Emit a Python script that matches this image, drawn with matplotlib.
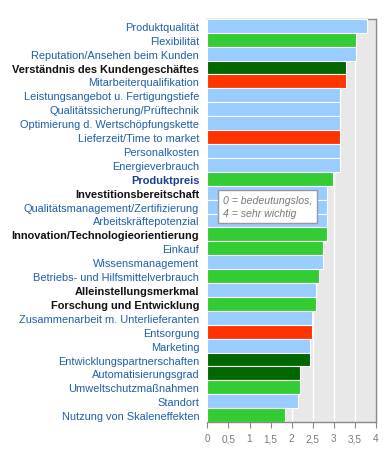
import numpy as np
import matplotlib.pyplot as plt

plt.rcParams['font.family'] = ['Liberation Sans', 'DejaVu Sans']

labels = [
    'Produktqualität', 'Flexibilität', 'Reputation/Ansehen beim Kunden',
    'Verständnis des Kundengeschäftes', 'Mitarbeiterqualifikation',
    'Leistungsangebot u. Fertigungstiefe', 'Qualitätssicherung/Prüftechnik',
    'Optimierung d. Wertschöpfungskette', 'Lieferzeit/Time to market',
    'Personalkosten', 'Energieverbrauch', 'Produktpreis',
    'Investitionsbereitschaft', 'Qualitätsmanagement/Zertifizierung',
    'Arbeitskräftepotenzial', 'Innovation/Technologieorientierung',
    'Einkauf', 'Wissensmanagement', 'Betriebs- und Hilfsmittelverbrauch',
    'Alleinstellungsmerkmal', 'Forschung und Entwicklung',
    'Zusammenarbeit m. Unterlieferanten', 'Entsorgung', 'Marketing',
    'Entwicklungspartnerschaften', 'Automatisierungsgrad',
    'Umweltschutzmaßnahmen', 'Standort', 'Nutzung von Skaleneffekten',
]
values = [3.79, 3.54, 3.54, 3.30, 3.30, 3.15, 3.15, 3.15, 3.15, 3.15, 3.15,
          2.98, 2.84, 2.84, 2.84, 2.84, 2.74, 2.74, 2.65, 2.58, 2.58,
          2.48, 2.48, 2.44, 2.44, 2.20, 2.20, 2.15, 1.85]
# gruppe: b = hellblau, g = gruen, d = dunkelgruen, r = rot
groups = ['b', 'g', 'b', 'd', 'r', 'b', 'b', 'b', 'r', 'b', 'b', 'g', 'b',
          'b', 'b', 'g', 'g', 'b', 'g', 'b', 'g', 'b', 'r', 'b', 'd', 'd',
          'g', 'b', 'g']
# stil der beschriftung: n = normal, k = fett schwarz, p = fett blau
label_style = ['n', 'n', 'n', 'k', 'n', 'n', 'n', 'n', 'n', 'n', 'n', 'p',
               'k', 'n', 'n', 'k', 'n', 'n', 'n', 'k', 'k', 'n', 'n', 'n',
               'n', 'n', 'n', 'n', 'n']
xticks = [0, 0.5, 1, 1.5, 2, 2.5, 3, 3.5, 4]
xtick_labels = ['0', '0,5', '1', '1,5', '2', '2,5', '3', '3,5', '4']

colors = {'b': '#99ccff', 'g': '#33cc33', 'd': '#006600', 'r': '#ff3300'}
text_style = {'n': ('#1f5ea8', 'normal'), 'k': ('#111111', 'bold'),
              'p': ('#1a3d8f', 'bold')}

fig = plt.figure(figsize=(3.9, 4.52), dpi=100)
ax = fig.add_axes([0.532, 0.064, 0.431, 0.892])
ax.set_facecolor('#e8e8e8')

y = np.arange(len(labels))
ax.barh(y, values, height=1.0, color=[colors[g] for g in groups],
        edgecolor='white', linewidth=0.8, zorder=3)

ax.set_xlim(0, 4)
ax.set_ylim(len(labels) - 0.5, -0.5)
ax.set_xticks(xticks)
ax.set_xticklabels(xtick_labels)
ax.xaxis.grid(True, color='white', linewidth=1.0, zorder=1)
ax.set_axisbelow(True)

ax.set_yticks(y)
ax.set_yticklabels(labels, fontsize=7.9)
for lab, st in zip(ax.get_yticklabels(), label_style):
    c, w = text_style[st]
    lab.set_color(c)
    lab.set_fontweight(w)
ax.tick_params(axis='y', length=0, pad=6)
ax.tick_params(axis='x', length=4, width=0.8, color='#888888',
               labelcolor='#777777', labelsize=7.2, pad=4)

for s in ['top', 'right', 'bottom']:
    ax.spines[s].set_color('#888888')
    ax.spines[s].set_linewidth(1.0)
ax.spines['left'].set_visible(False)

ax.text(0.37, 13.0, '0 = bedeutungslos,\n4 = sehr wichtig',
        fontsize=7.6, style='italic', color='#777777', va='center', ha='left',
        linespacing=1.35, zorder=5,
        bbox=dict(boxstyle='square,pad=0.45', facecolor='white',
                  edgecolor='#999999', linewidth=1.0))

fig.savefig('out.png', dpi=100)
